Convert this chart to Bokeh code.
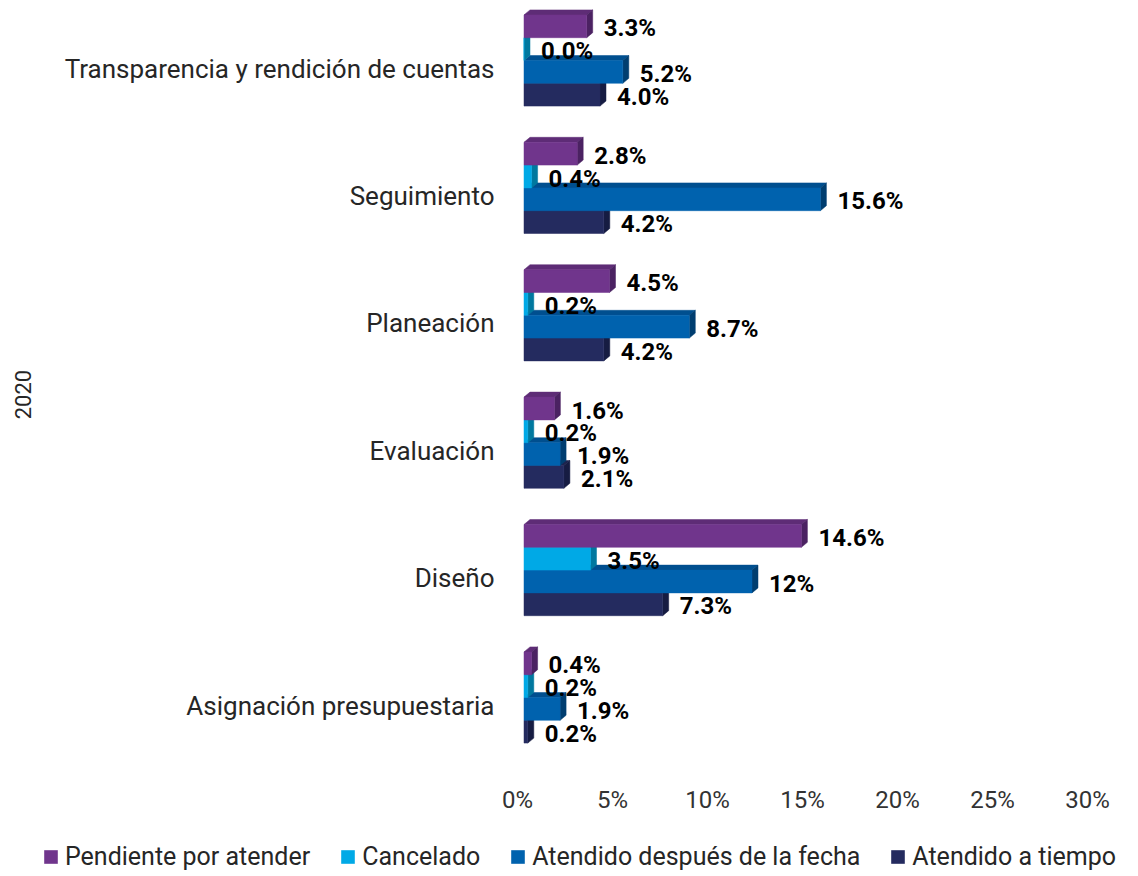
from bokeh.plotting import figure
from bokeh.layouts import column
from bokeh.models import FixedTicker, Legend, LegendItem, ColumnDataSource, PrintfTickFormatter
from bokeh.embed import file_html
from bokeh.resources import INLINE
from bokeh.core.properties import value

# ---------------- data ----------------
categories = ["Asignación presupuestaria", "Diseño", "Evaluación",
              "Planeación", "Seguimiento", "Transparencia y rendición de cuentas"]
series = ["Pendiente por atender", "Cancelado",
          "Atendido después de la fecha", "Atendido a tiempo"]
pendiente = [0.4, 14.6, 1.6, 4.5, 2.8, 3.3]
cancelado = [0.2, 3.5, 0.2, 0.2, 0.4, 0.0]
despues = [1.9, 12, 1.9, 8.7, 15.6, 5.2]
a_tiempo = [0.2, 7.3, 2.1, 4.2, 4.2, 4.0]
x_ticks = [0, 5, 10, 15, 20, 25, 30]
year_label = "2020"

# ---------------- style ----------------
front_colors = ["#70358C", "#00A9E6", "#0062AE", "#242B5F"]
top_colors = ["#5E2C76", "#0090C4", "#004F8F", "#1D234F"]
side_colors = ["#4B2262", "#00789F", "#003E70", "#161C42"]
FONT = "Roboto"

W = 1138
H_MAIN, H_LEG = 835, 41
FRAME_LEFT, FRAME_TOP, FRAME_BOTTOM = 517, 8, 780
X_MAX = 30
FRAME_W = 570
PX_X = X_MAX / FRAME_W          # data units per pixel (x)
PX_Y = 1 / 127.4                # data units per pixel (y)
y_end = 5 + (68 - FRAME_TOP) * PX_Y
y_start = y_end - (FRAME_BOTTOM - FRAME_TOP) * PX_Y

p = figure(width=W, height=H_MAIN, output_backend="svg", toolbar_location=None,
           x_range=(0, X_MAX), y_range=(y_start, y_end),
           min_border_left=FRAME_LEFT, min_border_right=W - FRAME_LEFT - FRAME_W,
           min_border_top=FRAME_TOP, min_border_bottom=H_MAIN - FRAME_BOTTOM)
p.frame_align = False
p.outline_line_color = None
p.grid.grid_line_color = None
p.background_fill_color = "white"

# ---------------- 3D bars ----------------
all_vals = [pendiente, cancelado, despues, a_tiempo]
h = 22.8 * PX_Y
gc = 8 * PX_Y
offs = [1.5, 0.5, -0.5, -1.5]
x0 = 6.5 * PX_X
dx = 6 * PX_X
dy = 5 * PX_Y

label_x, label_y, label_t = [], [], []
for s in [3, 2, 1, 0]:
    vals = all_vals[s]
    tx, ty, sx, sy = [], [], [], []
    fl, fr, fb, ft = [], [], [], []
    for i, v in enumerate(vals):
        yc = i + gc + offs[s] * h
        yb, yt = yc - h / 2, yc + h / 2
        xr = x0 + v
        tx.append([x0, xr, xr + dx, x0 + dx])
        ty.append([yt, yt, yt + dy, yt + dy])
        sx.append([xr, xr + dx, xr + dx, xr])
        sy.append([yb, yb + dy, yt + dy, yt])
        fl.append(x0); fr.append(xr); fb.append(yb); ft.append(yt)
        label_x.append(xr); label_y.append(yc); label_t.append(f"{v}%")
    p.patches(tx, ty, fill_color=top_colors[s], line_color=top_colors[s], line_width=0.5)
    p.patches(sx, sy, fill_color=side_colors[s], line_color=side_colors[s], line_width=0.5)
    p.quad(left=fl, right=fr, bottom=fb, top=ft,
           fill_color=front_colors[s], line_color=front_colors[s], line_width=0.5)

lsrc = ColumnDataSource(dict(x=label_x, y=label_y, t=label_t))
p.text(x="x", y="y", text="t", source=lsrc, x_offset=17, y_offset=2,
       text_align="left", text_baseline="middle",
       text_font=value(FONT), text_font_style="bold", text_font_size="24px",
       text_color="#000000")

# ---------------- axes ----------------
p.xaxis.ticker = FixedTicker(ticks=x_ticks)
p.xaxis.formatter = PrintfTickFormatter(format="%d%%")
p.xaxis.axis_line_color = None
p.xaxis.major_tick_line_color = None
p.xaxis.minor_tick_line_color = None
p.xaxis.major_tick_out = 0
p.xaxis.major_label_standoff = 5
p.xaxis.major_label_text_font = FONT
p.xaxis.major_label_text_font_size = "24px"
p.xaxis.major_label_text_color = "#333333"

p.yaxis.ticker = FixedTicker(ticks=list(range(len(categories))))
p.yaxis.major_label_overrides = {i: c for i, c in enumerate(categories)}
p.yaxis.axis_line_color = None
p.yaxis.major_tick_line_color = None
p.yaxis.minor_tick_line_color = None
p.yaxis.major_tick_out = 0
p.yaxis.major_label_standoff = 23
p.yaxis.major_label_text_font = FONT
p.yaxis.major_label_text_font_size = "26px"
p.yaxis.major_label_text_color = "#262626"
p.yaxis.axis_label = year_label
p.yaxis.axis_label_standoff = 31
p.yaxis.axis_label_text_font = FONT
p.yaxis.axis_label_text_font_style = "normal"
p.yaxis.axis_label_text_font_size = "22px"
p.yaxis.axis_label_text_color = "#262626"

# ---------------- legend (own strip below the chart) ----------------
lg = figure(width=W, height=H_LEG, output_backend="svg", toolbar_location=None,
            x_axis_type=None, y_axis_type=None, x_range=(0, 1), y_range=(0, 1),
            min_border_left=0, min_border_right=0, min_border_top=0, min_border_bottom=0)
lg.frame_align = False
lg.outline_line_color = None
lg.grid.grid_line_color = None
swatches = []
for s in range(4):
    # zero-size swatch glyphs: only their style is used by the legend
    r = lg.quad(left=[0], right=[0], bottom=[0], top=[0],
                fill_color=front_colors[s], line_alpha=0)
    swatches.append(r)

legend = Legend(items=[LegendItem(label=series[s], renderers=[swatches[s]]) for s in range(4)],
                orientation="horizontal", location=(42, 5))
legend.background_fill_alpha = 0
legend.border_line_alpha = 0
legend.padding = 0
legend.margin = 0
legend.spacing = 29
legend.label_standoff = 6
legend.glyph_width = 17
legend.glyph_height = 17
legend.label_text_font = FONT
legend.label_text_font_size = "25px"
legend.label_text_color = "#262626"
lg.add_layout(legend, "center")

layout = column(p, lg, spacing=0)
open("out.html", "w").write(file_html(layout, INLINE))
